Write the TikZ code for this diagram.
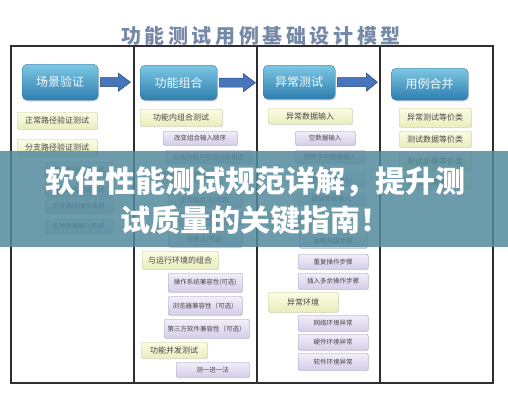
\documentclass[tikz,border=0pt]{standalone}
\usepackage{fontspec}
\newfontfamily\cjk{Noto Sans CJK SC}
\usetikzlibrary{positioning,calc,shadows}
\definecolor{frameline}{RGB}{45,45,50}
\definecolor{titleblue}{RGB}{118,138,168}
\definecolor{hdrtop}{RGB}{125,200,228}
\definecolor{hdrbot}{RGB}{45,125,175}
\definecolor{hdrline}{RGB}{60,120,160}
\definecolor{arrowblue}{RGB}{72,118,188}
\definecolor{arrowline}{RGB}{40,70,120}
\definecolor{ytop}{RGB}{252,252,228}
\definecolor{ybot}{RGB}{232,238,188}
\definecolor{yline}{RGB}{200,205,160}
\definecolor{ptop}{RGB}{242,238,250}
\definecolor{pbot}{RGB}{212,206,232}
\definecolor{pline}{RGB}{165,160,195}
\definecolor{boxtext}{RGB}{70,70,70}
\definecolor{bannerteal}{RGB}{82,138,156}

\tikzset{
  sz/.style 2 args={minimum width=#1, minimum height=#2},
  hdrbox/.style={draw=hdrline, rounded corners=5pt, top color=hdrtop, bottom color=hdrbot,
    text=white!90!hdrtop, font=\cjk\fontsize{12}{12}\selectfont, anchor=north west, inner sep=0pt,
    drop shadow={opacity=0.25, shadow xshift=1pt, shadow yshift=-1.5pt}},
  ybox/.style={draw=yline, rounded corners=1.5pt, top color=ytop, bottom color=ybot,
    text=boxtext, font=\cjk\fontsize{8}{8}\selectfont, anchor=north west, inner sep=0pt,
    drop shadow={opacity=0.2, shadow xshift=1pt, shadow yshift=-1pt}},
  pbox/.style={draw=pline, rounded corners=1.5pt, top color=ptop, bottom color=pbot,
    text=boxtext, font=\cjk\fontsize{6.5}{6.5}\selectfont, anchor=north west, inner sep=0pt,
    drop shadow={opacity=0.2, shadow xshift=1pt, shadow yshift=-1pt}},
  blockarrow/.style={fill=arrowblue, draw=arrowline, line width=0.5pt},
}

\begin{document}
\begin{tikzpicture}[x=1pt,y=-1pt]
\useasboundingbox (0,0) rectangle (508,400);

% title and frame
\node[font=\cjk\bfseries\fontsize{20}{20}\selectfont\addfontfeatures{LetterSpace=18}, text=titleblue] (title) at (261,36) {功能测试用例基础设计模型};
\draw[frameline, line width=1.1pt] (11,46) rectangle (493,383);
\foreach \x in {134,257,380}
  \draw[frameline, line width=1.1pt] (\x,46) -- (\x,383);

% column 1
\node[hdrbox, sz={76}{36}] (h1) at (22,64) {场景验证};
\node[ybox, sz={80}{17}] (c1a) at (17,112) {正常路径验证测试};
\node[ybox, sz={80}{17}] (c1b) at (17,139) {分支路径验证测试};
\node[pbox, sz={67}{15}] (c1c) at (45,162) {基本路径验证测试};
\node[pbox, sz={67}{14}] (c1d) at (45,183) {备选路径验证测试};
\node[pbox, sz={67}{14}] (c1e) at (45,199) {正常路径操作流程};
\node[pbox, sz={67}{14}] (c1f) at (45,219) {各种数据输入形式};

% column 2
\node[hdrbox, sz={77}{35}] (h2) at (140,65) {功能组合};
\node[ybox, sz={82}{17}] (c2a) at (140,109) {功能内组合测试};
\node[pbox, sz={74}{14}] (c2b) at (163,131) {改变组合输入顺序};
\node[pbox, sz={87}{13}] (c2c) at (165,150) {必选功能与可选功能组合};
\node[ybox, sz={82}{15}] (c2d) at (140,168) {功能间组合测试};
\node[pbox, sz={74}{13}] (c2e) at (168,194) {正交组合法(可选)};
\node[pbox, sz={74}{13}] (c2f) at (168,212) {全组合法(可选)};
\node[pbox, sz={74}{16}] (c2g) at (168,231) {均衡法(可选)};
\node[ybox, sz={76}{18}] (c2h) at (142,251) {与运行环境的组合};
\node[pbox, sz={74}{19}] (c2i) at (168,273) {操作系统兼容性(可选)};
\node[pbox, sz={74}{19}] (c2j) at (168,296) {浏览器兼容性（可选）};
\node[pbox, sz={85}{19}] (c2k) at (164,319) {第三方软件兼容性（可选）};
\node[ybox, sz={66}{16}] (c2l) at (141,342) {功能并发测试};
\node[pbox, sz={73}{15}] (c2m) at (176,362) {测一进一法};

% column 3
\node[hdrbox, sz={72}{34}] (h3) at (263,65) {异常测试};
\node[ybox, sz={84}{16}] (c3a) at (268,108) {异常数据输入};
\node[pbox, sz={60}{14}] (c3b) at (295,131) {空数据输入};
\node[pbox, sz={70}{13}] (c3c) at (295,150) {特殊字符数据输入};
\node[pbox, sz={68}{13}] (c3d) at (297,173) {超长数据输入};
\node[pbox, sz={68}{12}] (c3e) at (297,193) {错误数据输入};
\node[ybox, sz={70}{16}] (c3f) at (268,212) {异常操作步骤};
\node[pbox, sz={68}{15}] (c3g) at (299,233) {省略关键步骤};
\node[pbox, sz={70}{15}] (c3h) at (298,254) {重复操作步骤};
\node[pbox, sz={70}{16}] (c3i) at (298,273) {插入多余操作步骤};
\node[ybox, sz={70}{20}] (c3j) at (268,292) {异常环境};
\node[pbox, sz={70}{16}] (c3k) at (298,315) {网络环境异常};
\node[pbox, sz={70}{16}] (c3l) at (298,334) {硬件环境异常};
\node[pbox, sz={70}{17}] (c3m) at (298,353) {软件环境异常};

% column 4
\node[hdrbox, sz={77}{32}] (h4) at (391,68) {用例合并};
\node[ybox, sz={72}{19}] (c4a) at (399,108) {异常测试等价类};
\node[ybox, sz={72}{16}] (c4b) at (399,131) {测试数据等价类};
\node[ybox, sz={72}{17}] (c4c) at (399,153) {测试步骤等价类};
\node[ybox, sz={72}{13}] (c4d) at (399,176) {测试环境等价类};

% arrows between columns
\coordinate (t1) at ($(h1.east)+(32,0)$);
\coordinate (t2) at ($(h2.east)+(38,0)$);
\coordinate (t3) at ($(h3.east)+(42,0)$);
\draw[blockarrow] ($(h1.east)+(2,-4.5)$) -- ($(t1)+(-12,-4.5)$) -- ($(t1)+(-12,-9)$) -- (t1)
  -- ($(t1)+(-12,9)$) -- ($(t1)+(-12,4.5)$) -- ($(h1.east)+(2,4.5)$) -- cycle;
\draw[blockarrow] ($(h2.east)+(2,-4.5)$) -- ($(t2)+(-12,-4.5)$) -- ($(t2)+(-12,-9)$) -- (t2)
  -- ($(t2)+(-12,9)$) -- ($(t2)+(-12,4.5)$) -- ($(h2.east)+(2,4.5)$) -- cycle;
\draw[blockarrow] ($(h3.east)+(2,-4.5)$) -- ($(t3)+(-11,-4.5)$) -- ($(t3)+(-11,-9)$) -- (t3)
  -- ($(t3)+(-11,9)$) -- ($(t3)+(-11,4.5)$) -- ($(h3.east)+(2,4.5)$) -- cycle;

% banner over the model
\fill[bannerteal, fill opacity=0.85] (0,151) rectangle (508,247);
\node[text=white, font=\cjk\bfseries\fontsize{30}{39}\selectfont, align=center] (banner) at (255,201)
  {软件性能测试规范详解，提升测\\试质量的关键指南！};
\end{tikzpicture}
\end{document}
